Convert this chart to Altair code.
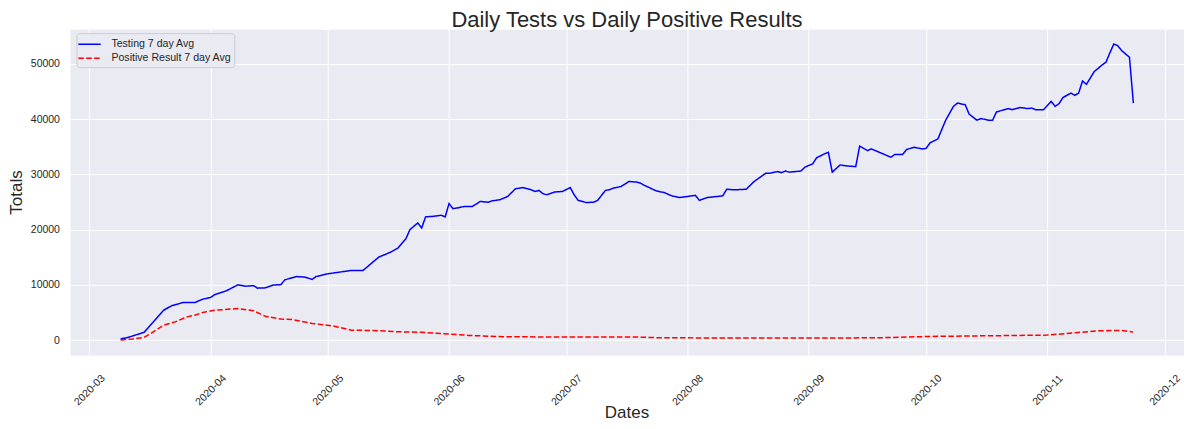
import altair as alt
import pandas as pd

series_names = ["Testing 7 day Avg", "Positive Result 7 day Avg"]
series_colors = ["blue", "red"]

test_dates = [
    "2020-03-09", "2020-03-11", "2020-03-15", "2020-03-17", "2020-03-20", "2020-03-22",
    "2020-03-25", "2020-03-28", "2020-03-30", "2020-04-01", "2020-04-02", "2020-04-05",
    "2020-04-08", "2020-04-10", "2020-04-12", "2020-04-13", "2020-04-15", "2020-04-17",
    "2020-04-19", "2020-04-20", "2020-04-23", "2020-04-25", "2020-04-27", "2020-04-28",
    "2020-05-01", "2020-05-04", "2020-05-07", "2020-05-10", "2020-05-14", "2020-05-17",
    "2020-05-19", "2020-05-21", "2020-05-22", "2020-05-24", "2020-05-25", "2020-05-26",
    "2020-05-28", "2020-05-30", "2020-05-31", "2020-06-01", "2020-06-02", "2020-06-03",
    "2020-06-05", "2020-06-07", "2020-06-09", "2020-06-11", "2020-06-12", "2020-06-14",
    "2020-06-16", "2020-06-18", "2020-06-20", "2020-06-22", "2020-06-23", "2020-06-24",
    "2020-06-25", "2020-06-26", "2020-06-28", "2020-06-30", "2020-07-02", "2020-07-03",
    "2020-07-04", "2020-07-06", "2020-07-08", "2020-07-09", "2020-07-11", "2020-07-12",
    "2020-07-13", "2020-07-15", "2020-07-17", "2020-07-19", "2020-07-20", "2020-07-21",
    "2020-07-24", "2020-07-26", "2020-07-28", "2020-07-30", "2020-08-01", "2020-08-03",
    "2020-08-04", "2020-08-06", "2020-08-10", "2020-08-11", "2020-08-13", "2020-08-16",
    "2020-08-18", "2020-08-21", "2020-08-22", "2020-08-24", "2020-08-25", "2020-08-26",
    "2020-08-27", "2020-08-30", "2020-08-31", "2020-09-02", "2020-09-03", "2020-09-05",
    "2020-09-06", "2020-09-07", "2020-09-09", "2020-09-11", "2020-09-13", "2020-09-14",
    "2020-09-16", "2020-09-17", "2020-09-19", "2020-09-22", "2020-09-23", "2020-09-25",
    "2020-09-26", "2020-09-28", "2020-09-30", "2020-10-01", "2020-10-02", "2020-10-04",
    "2020-10-06", "2020-10-08", "2020-10-09", "2020-10-11", "2020-10-12", "2020-10-14",
    "2020-10-15", "2020-10-17", "2020-10-18", "2020-10-19", "2020-10-21", "2020-10-22",
    "2020-10-23", "2020-10-25", "2020-10-27", "2020-10-28", "2020-10-29", "2020-10-31",
    "2020-11-02", "2020-11-03", "2020-11-04", "2020-11-05", "2020-11-07", "2020-11-08",
    "2020-11-09", "2020-11-10", "2020-11-11", "2020-11-13", "2020-11-15", "2020-11-16",
    "2020-11-17", "2020-11-18", "2020-11-19", "2020-11-20", "2020-11-22", "2020-11-23",
]
test_values = [
    200, 500, 1400, 3000, 5400, 6200,
    6800, 6800, 7400, 7700, 8200, 8900,
    10000, 9750, 9850, 9400, 9450, 9950,
    10050, 10900, 11500, 11400, 11000, 11500,
    12000, 12300, 12600, 12600, 15000, 15900,
    16700, 18400, 20000, 21200, 20300, 22300,
    22400, 22600, 22300, 24700, 23800, 23900,
    24200, 24200, 25100, 24950, 25200, 25400,
    26000, 27400, 27600, 27200, 26900, 27100,
    26500, 26300, 26800, 26900, 27600, 26300,
    25300, 24900, 24950, 25300, 27100, 27200,
    27500, 27800, 28700, 28600, 28400, 28000,
    27000, 26700, 26100, 25800, 26000, 26200,
    25300, 25800, 26100, 27300, 27200, 27300,
    28700, 30200, 30200, 30500, 30300, 30600,
    30400, 30600, 31300, 31900, 33000, 33700,
    34000, 30400, 31700, 31500, 31400, 35100,
    34300, 34600, 34000, 33100, 33600, 33600,
    34500, 34900, 34600, 34700, 35700, 36400,
    39800, 42300, 42900, 42600, 40900, 39800,
    40100, 39800, 39800, 41300, 41700, 41900,
    41700, 42100, 41900, 42000, 41700, 41700,
    43200, 42300, 42800, 43900, 44700, 44300,
    44700, 46900, 46300, 48600, 49800, 50300,
    52000, 53600, 53300, 52400, 51200, 42900,
]

pos_dates = [
    "2020-03-09", "2020-03-12", "2020-03-15", "2020-03-17", "2020-03-20", "2020-03-23",
    "2020-03-26", "2020-03-28", "2020-03-30", "2020-04-02", "2020-04-04", "2020-04-08",
    "2020-04-12", "2020-04-15", "2020-04-19", "2020-04-22", "2020-04-27", "2020-05-02",
    "2020-05-07", "2020-05-14", "2020-05-19", "2020-05-25", "2020-06-01", "2020-06-06",
    "2020-06-15", "2020-07-02", "2020-07-19", "2020-07-25", "2020-08-18", "2020-09-04",
    "2020-09-19", "2020-10-02", "2020-10-17", "2020-11-01", "2020-11-09", "2020-11-14",
    "2020-11-20", "2020-11-23",
]
pos_values = [
    0, 200, 500, 1300, 2700, 3300,
    4200, 4500, 5000, 5400, 5500, 5700,
    5300, 4300, 3800, 3700, 3000, 2600,
    1800, 1700, 1500, 1400, 1100, 850,
    600, 550, 550, 420, 360, 360,
    420, 660, 780, 900, 1380, 1680,
    1740, 1440,
]

x_tick_months = [3, 4, 5, 6, 7, 8, 9, 10, 11, 12]
y_ticks = [0, 10000, 20000, 30000, 40000, 50000]

df = pd.concat(
    [
        pd.DataFrame({"date": pd.to_datetime(test_dates), "value": test_values, "series": series_names[0]}),
        pd.DataFrame({"date": pd.to_datetime(pos_dates), "value": pos_values, "series": series_names[1]}),
    ],
    ignore_index=True,
)

text_color = "#262626"
font = "Liberation Sans"

x_domain = [
    alt.DateTime(year=2020, month=2, date=25, hours=1, minutes=12),
    alt.DateTime(year=2020, month=12, date=5, hours=22, minutes=48),
]
x_values = [alt.DateTime(year=2020, month=m, date=1) for m in x_tick_months]

legend = alt.Legend(
    title=None,
    orient="none",
    legendX=6.5,
    legendY=4,
    fillColor="#EAEAF2",
    strokeColor="#CCCCCC",
    cornerRadius=3,
    padding=3,
    symbolType="M-1.3,0H1.9",
    symbolSize=196,
    symbolStrokeWidth=1.5,
    labelOffset=16,
    rowPadding=0,
    labelFontSize=10.6,
    labelColor=text_color,
    labelFont=font,
)

chart = (
    alt.Chart(df)
    .mark_line(strokeWidth=1.5)
    .encode(
        x=alt.X(
            "date:T",
            scale=alt.Scale(domain=x_domain),
            axis=alt.Axis(
                values=x_values,
                format="%Y-%m",
                labelAngle=-45,
                labelAlign="center",
                labelBaseline="middle",
                labelPadding=35,
                labelFlush=False,
                labelOverlap=False,
                ticks=False,
                tickSize=0,
                domain=False,
                gridColor="white",
                gridWidth=1,
                labelFontSize=10.5,
                labelColor=text_color,
                labelFont=font,
                titleFontSize=17,
                titleFontWeight="normal",
                titleColor=text_color,
                titleFont=font,
                titleBaseline="alphabetic",
                titleAlign="center",
                titleX=557,
                titleY=63,
            ),
            title="Dates",
        ),
        y=alt.Y(
            "value:Q",
            scale=alt.Scale(domain=[-2680, 56280], nice=False, zero=False),
            axis=alt.Axis(
                values=y_ticks,
                format="d",
                labelPadding=10.5,
                ticks=False,
                tickSize=0,
                domain=False,
                gridColor="white",
                gridWidth=1,
                labelFontSize=10.5,
                labelColor=text_color,
                labelFont=font,
                titleFontSize=17,
                titleFontWeight="normal",
                titleColor=text_color,
                titleFont=font,
                titleAngle=-90,
                titleBaseline="alphabetic",
                titleAlign="center",
                titleX=-48,
                titleY=163,
            ),
            title="Totals",
        ),
        color=alt.Color(
            "series:N",
            scale=alt.Scale(domain=series_names, range=series_colors),
            legend=legend,
            title=None,
        ),
        strokeDash=alt.StrokeDash(
            "series:N",
            scale=alt.Scale(domain=series_names, range=[[1, 0], [5.5, 2.4]]),
            legend=legend,
            title=None,
        ),
    )
    .properties(
        width=1115,
        height=326,
        autosize=alt.AutoSizeParams(type="none"),
        padding={"left": 62, "top": 21, "right": 0, "bottom": 72},
        background="white",
        title=alt.TitleParams(
            "Daily Tests vs Daily Positive Results",
            fontSize=22,
            fontWeight="normal",
            color=text_color,
            font=font,
            anchor="middle",
            frame="group",
            orient="top",
            offset=0,
            baseline="alphabetic",
            dy=20,
        ),
    )
    .configure(font=font)
    .configure_view(fill="#EAEAF2", stroke="transparent")
)

chart.save("out.html", embed_options={"renderer": "svg", "actions": False})
